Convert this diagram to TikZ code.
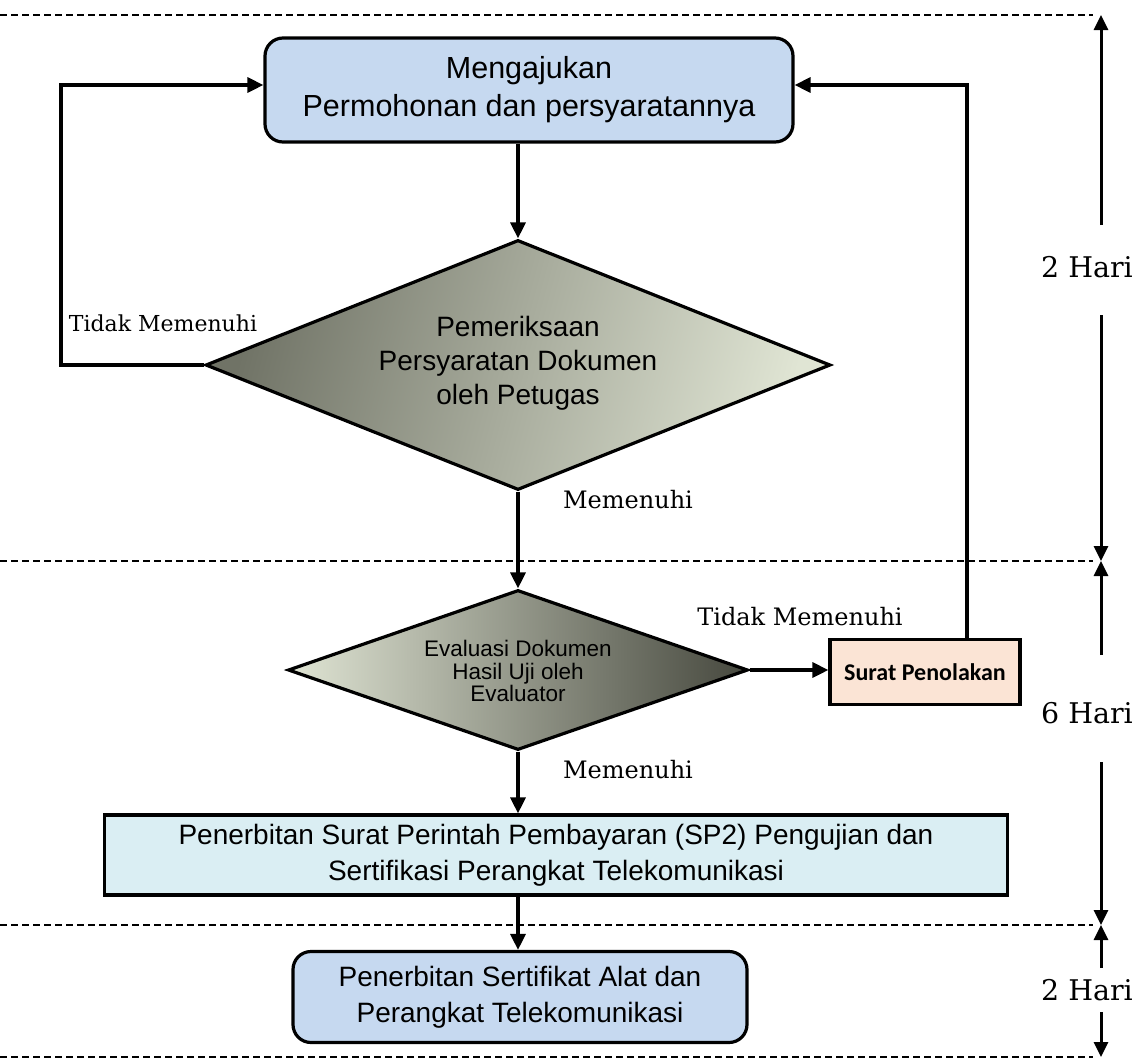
\documentclass[tikz,border=0pt]{standalone}
\usepackage{fontspec}
\setmainfont{Liberation Sans}
\newfontfamily\labelfont{DejaVu Serif}
\newfontfamily\calfont{Carlito}
\usetikzlibrary{shapes.geometric,arrows.meta}
\definecolor{boxblue}{RGB}{198,217,240}
\definecolor{boxcyan}{RGB}{218,238,243}
\definecolor{boxpeach}{RGB}{251,228,213}
\definecolor{dmdark}{RGB}{112,115,102}
\definecolor{dmmid}{RGB}{168,172,156}
\definecolor{dmlight}{RGB}{224,229,212}
\definecolor{dmdarker}{RGB}{70,72,62}
\begin{document}
\begin{tikzpicture}[x=1pt,y=-1pt,
  conn/.style={line width=3.2pt,-{Triangle[length=16pt,width=15pt]}},
  tarrow/.style={line width=3pt,-{Triangle[length=15pt,width=14pt]}},
  sep/.style={line width=1.7pt,dash pattern=on 7pt off 4pt},
  txt/.style={font=\fontsize{28}{36}\selectfont,align=center,inner sep=0pt},
  rbox/.style={txt,draw,line width=3.2pt,rounded corners=18pt,fill=boxblue},
  sbox/.style={txt,draw,line width=3.2pt,fill=boxcyan},
  dmd/.style={diamond,draw,line width=3.2pt,inner sep=0pt,align=center},
  lbl/.style={font=\labelfont\fontsize{24}{28}\selectfont,inner sep=0pt},
  hari/.style={font=\labelfont\fontsize{28.5}{30}\selectfont,inner sep=0pt}]
\useasboundingbox (0,0) rectangle (1141,1061);
% separators
\coordinate (s1a) at (0,15);   \coordinate (s1b) at (1093,15);
\coordinate (s2a) at (0,561);  \coordinate (s2b) at (1093,561);
\coordinate (s3a) at (0,925);  \coordinate (s3b) at (1093,925);
\coordinate (s4a) at (0,1057); \coordinate (s4b) at (1093,1057);
\draw[sep] (s1a) -- (s1b);
\draw[sep] (s2a) -- (s2b);
\draw[sep] (s3a) -- (s3b);
\draw[sep] (s4a) -- (s4b);
% nodes
\node[rbox,minimum width=528pt,minimum height=104pt,font=\fontsize{30.5}{38}\selectfont] (top) at (529,90)
  {Mengajukan\\Permohonan dan persyaratannya};
\node[dmd,minimum width=625pt,minimum height=250pt,
  left color=dmdark,middle color=dmmid,right color=dmlight,shading angle=75] (d1) at (518,365) {};
\node[txt,font=\fontsize{28}{34}\selectfont] (d1t) at (518,363)
  {Pemeriksaan\\Persyaratan Dokumen\\oleh Petugas};
\node[dmd,minimum width=460pt,minimum height=160pt,
  left color=dmlight,middle color=dmmid!90!black,right color=dmdarker] (d2) at (518,670) {};
\node[txt,font=\fontsize{22.5}{22.5}\selectfont] (d2t) at (518,671)
  {Evaluasi Dokumen\\Hasil Uji oleh\\Evaluator};
\node[draw,line width=3.2pt,fill=boxpeach,minimum width=190pt,minimum height=65pt,
  inner sep=0pt,font=\calfont\bfseries\fontsize{24}{28}\selectfont] (rej) at (925,672)
  {Surat Penolakan};
\node[sbox,minimum width=903pt,minimum height=80pt] (sp2) at (556,855)
  {Penerbitan Surat Perintah Pembayaran (SP2) Pengujian dan\\Sertifikasi Perangkat Telekomunikasi};
\node[rbox,minimum width=454pt,minimum height=91pt] (fin) at (520,997)
  {Penerbitan Sertifikat Alat dan\\Perangkat Telekomunikasi};
% labels
\node[lbl,font=\labelfont\fontsize{22}{26}\selectfont] (l1) at (163,323) {Tidak Memenuhi};
\node[lbl] (l2) at (628,500) {Memenuhi};
\node[lbl] (l3) at (800,617) {Tidak Memenuhi};
\node[lbl] (l4) at (628,770) {Memenuhi};
% connectors
\draw[conn] (top.south -| d1.north) -- (d1.north);
\draw[conn] (d1.west) -- ++(-143,0) |- ([yshift=5pt]top.west);
\draw[conn] (d1.south) -- (d2.north);
\draw[conn] (d2.east) -- (d2.east -| rej.west);
\draw[conn] ([xshift=42pt]rej.north) |- ([yshift=5pt]top.east);
\draw[conn] (d2.south) -- (d2.south |- sp2.north);
\draw[conn] (sp2.south -| d2.south) -- (fin.north -| d2.south);
% timeline
\node[hari] (h1) at (1087,267) {2 Hari};
\node[hari] (h2) at (1087,713) {6 Hari};
\node[hari] (h3) at (1087,990) {2 Hari};
\coordinate (t0) at (1101,15);
\coordinate (t1) at (1101,561);
\coordinate (t2) at (1101,925);
\coordinate (t3) at (1101,1057);
\draw[tarrow] (1101,225) -- (t0);
\draw[tarrow] (1101,315) -- (t1);
\draw[tarrow] (1101,655) -- (t1);
\draw[tarrow] (1101,762) -- (t2);
\draw[tarrow] (1101,968) -- (t2);
\draw[tarrow] (1101,1012) -- (t3);
\end{tikzpicture}
\end{document}
